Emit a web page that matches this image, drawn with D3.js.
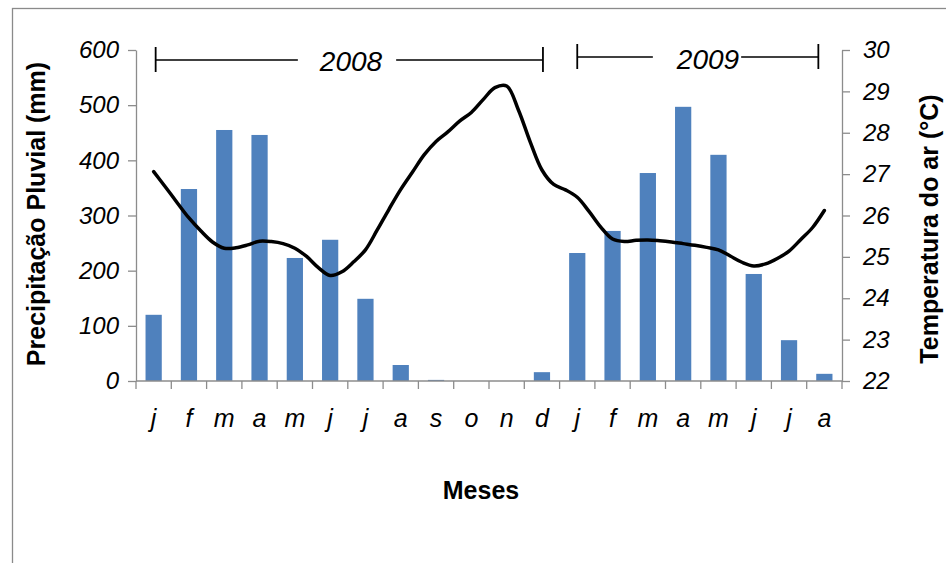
<!DOCTYPE html>
<html>
<head>
<meta charset="utf-8">
<script src="https://cdn.jsdelivr.net/npm/d3@7"></script>
<style>
  html, body { margin: 0; padding: 0; background: #fff; }
  svg { display: block; font-family: "Liberation Sans", Arial, sans-serif; }
</style>
</head>
<body>
<svg id="chart" width="946" height="563"></svg>
<script>
// Month initials along the horizontal axis (Jan 2008 .. Aug 2009)
const months = ["j","f","m","a","m","j","j","a","s","o","n","d",
                "j","f","m","a","m","j","j","a"];

// Monthly rainfall (mm)
const precipitation = [120, 348, 455, 446, 223, 256, 149, 29, 2, 0, 0, 16,
                       232, 272, 377, 497, 410, 194, 74, 13];

// Air temperature (°C), ten-day readings from early Jan 2008 to Aug 2009
const temperature = [
  27.06, 26.69, 26.31, 25.94, 25.63, 25.36, 25.21, 25.22, 25.29, 25.38,
  25.37, 25.32, 25.21, 25.01, 24.74, 24.55, 24.64, 24.88, 25.17, 25.65,
  26.15, 26.63, 27.05, 27.47, 27.79, 28.02, 28.28, 28.49, 28.80, 29.09,
  29.13, 28.55, 27.78, 27.10, 26.75, 26.62, 26.44, 26.10, 25.72, 25.43,
  25.37, 25.40, 25.41, 25.39, 25.36, 25.32, 25.28, 25.23, 25.17, 25.02,
  24.87, 24.78, 24.83, 24.96, 25.14, 25.42, 25.71, 26.12
];

// Axis tick values
const precipTicks = [0, 100, 200, 300, 400, 500, 600];
const tempTicks = [22, 23, 24, 25, 26, 27, 28, 29, 30];

// Year brackets over the months they cover
const yearLabels = ["2008", "2009"];
const yearFirstMonth = [0, 12];
const yearLastMonth = [11, 19];

const svg = d3.select("#chart");
const plotLeft = 136, plotRight = 842, plotTop = 50, plotBottom = 381;
const axisGrey = "#8c8c8c";

// outer chart frame
svg.append("rect")
  .attr("x", 12.5).attr("y", 8.5)
  .attr("width", 960).attr("height", 600)
  .attr("fill", "none").attr("stroke", "#8a8a8a").attr("stroke-width", 1.3);

const x = d3.scaleBand()
  .domain(d3.range(months.length))
  .range([plotLeft, plotRight])
  .paddingInner(0.54)
  .paddingOuter(0.27);

const yP = d3.scaleLinear().domain([0, 600]).range([plotBottom, plotTop]);
const yT = d3.scaleLinear().domain([22, 30]).range([plotBottom, plotTop]);

const center = i => x(i) + x.bandwidth() / 2;
const xT = d3.scaleLinear()
  .domain([0, temperature.length - 1])
  .range([center(0), center(months.length - 1)]);

// bars
svg.append("g").selectAll("rect")
  .data(precipitation)
  .join("rect")
  .attr("x", (d, i) => x(i))
  .attr("y", d => yP(d))
  .attr("width", x.bandwidth())
  .attr("height", d => plotBottom - yP(d))
  .attr("fill", "#4F81BD");

// left axis
const gL = svg.append("g").attr("transform", `translate(${plotLeft},0)`)
  .call(d3.axisLeft(yP).tickValues(precipTicks).tickSize(8).tickSizeOuter(0).tickPadding(9));
// right axis
const gR = svg.append("g").attr("transform", `translate(${plotRight},0)`)
  .call(d3.axisRight(yT).tickValues(tempTicks).tickSize(8).tickSizeOuter(0).tickPadding(13));

[gL, gR].forEach(g => {
  g.select(".domain").attr("stroke", axisGrey).attr("stroke-width", 1.3);
  g.selectAll(".tick line").attr("stroke", axisGrey).attr("stroke-width", 1.3);
  g.selectAll(".tick text")
    .attr("font-size", 24).attr("font-style", "italic")
    .attr("fill", "#000").attr("font-family", "Liberation Sans, Arial, sans-serif");
});

// bottom axis: line with ticks at category boundaries
const gB = svg.append("g");
gB.append("line")
  .attr("x1", plotLeft).attr("x2", plotRight).attr("y1", plotBottom).attr("y2", plotBottom)
  .attr("stroke", axisGrey).attr("stroke-width", 1.3);
gB.selectAll("line.tk")
  .data(d3.range(months.length + 1))
  .join("line").attr("class", "tk")
  .attr("x1", i => plotLeft + i * x.step()).attr("x2", i => plotLeft + i * x.step())
  .attr("y1", plotBottom).attr("y2", plotBottom + 8)
  .attr("stroke", axisGrey).attr("stroke-width", 1.3);
gB.selectAll("text")
  .data(months)
  .join("text")
  .attr("x", (d, i) => center(i))
  .attr("y", 427)
  .attr("text-anchor", "middle")
  .attr("font-size", 25).attr("font-style", "italic")
  .text(d => d);

// temperature line
svg.append("path")
  .datum(temperature)
  .attr("fill", "none")
  .attr("stroke", "#000")
  .attr("stroke-width", 3.5)
  .attr("stroke-linejoin", "round")
  .attr("stroke-linecap", "round")
  .attr("d", d3.line().x((d, i) => xT(i)).y(d => yT(d)).curve(d3.curveCatmullRom));

// year brackets
const brackets = [
  { label: yearLabels[0], x1: center(yearFirstMonth[0]) + 2, x2: center(yearLastMonth[0]) + 1, y: 60, tx: 351, gapL: 22, gapR: 14, base: 71 },
  { label: yearLabels[1], x1: center(yearFirstMonth[1]), x2: center(yearLastMonth[1]) - 6, y: 57, tx: 708, gapL: 24, gapR: 2, base: 69 }
];
const gY = svg.append("g");
brackets.forEach(b => {
  const t = gY.append("text")
    .attr("x", b.tx).attr("y", b.base)
    .attr("text-anchor", "middle")
    .attr("font-size", 28).attr("font-style", "italic")
    .text(b.label);
  const w = t.node().getComputedTextLength();
  const seg = [[b.x1, b.tx - w / 2 - b.gapL], [b.tx + w / 2 + b.gapR, b.x2]];
  seg.forEach(([a, c]) => gY.append("line")
    .attr("x1", a).attr("x2", c).attr("y1", b.y).attr("y2", b.y)
    .attr("stroke", "#000").attr("stroke-width", 1.6));
  [b.x1, b.x2].forEach(px => gY.append("line")
    .attr("x1", px).attr("x2", px).attr("y1", b.y - 13).attr("y2", b.y + 12)
    .attr("stroke", "#000").attr("stroke-width", 1.8));
});

// axis titles
svg.append("text")
  .attr("transform", "translate(45,214) rotate(-90)")
  .attr("text-anchor", "middle")
  .attr("font-size", 25).attr("font-weight", "bold")
  .text("Precipitação Pluvial (mm)");
svg.append("text")
  .attr("transform", "translate(938,229) rotate(-90)")
  .attr("text-anchor", "middle")
  .attr("font-size", 25).attr("font-weight", "bold")
  .text("Temperatura do ar (°C)");
svg.append("text")
  .attr("x", 481).attr("y", 499)
  .attr("text-anchor", "middle")
  .attr("font-size", 25).attr("font-weight", "bold")
  .text("Meses");
</script>
</body>
</html>
